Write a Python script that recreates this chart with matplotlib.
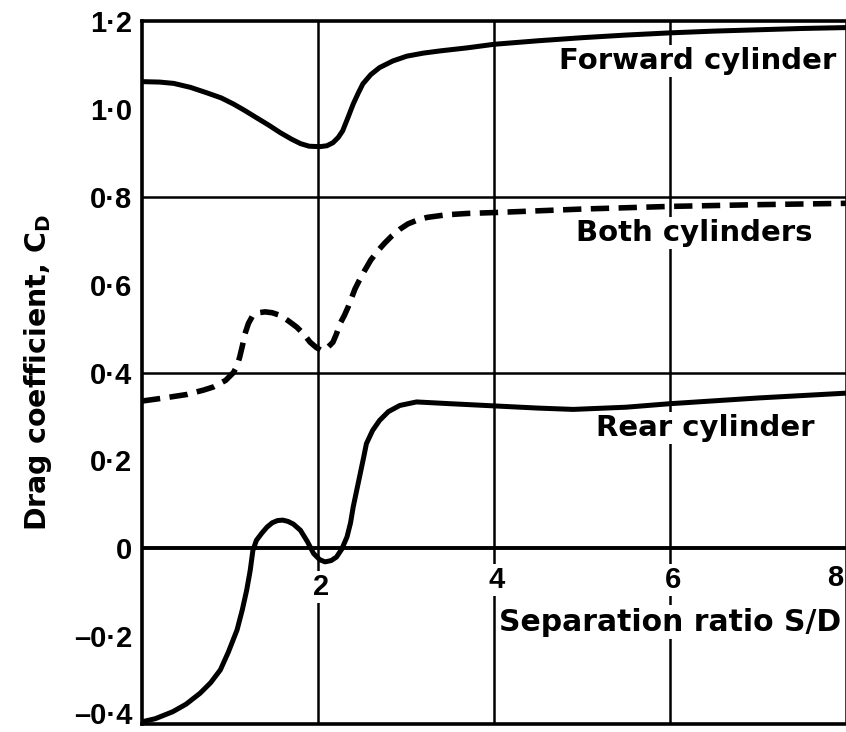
import matplotlib
matplotlib.use("Agg")
import matplotlib.pyplot as plt

plt.rcParams['font.family'] = ['Liberation Sans', 'DejaVu Sans']
plt.rcParams['mathtext.fontset'] = 'custom'
plt.rcParams['mathtext.rm'] = 'DejaVu Sans:bold'
plt.rcParams['mathtext.it'] = 'DejaVu Sans:bold'
plt.rcParams['mathtext.bf'] = 'DejaVu Sans:bold'

# ---- data ----
fwd_x = [0, 0.2, 0.36, 0.55, 0.73, 0.9, 1.04, 1.17, 1.30, 1.44, 1.57, 1.70,
         1.80, 1.90, 2.02, 2.10, 2.17, 2.23, 2.28, 2.34, 2.40, 2.46, 2.51,
         2.60, 2.70, 2.85, 3.01, 3.2, 3.39, 3.7, 4.0, 4.5, 5.0, 5.5, 6.0,
         6.5, 7.0, 7.5, 8.0]
fwd_y = [1.062, 1.061, 1.058, 1.049, 1.037, 1.025, 1.011, 0.996, 0.98, 0.963,
         0.946, 0.931, 0.921, 0.915, 0.914, 0.916, 0.923, 0.935, 0.95, 0.98,
         1.011, 1.037, 1.057, 1.078, 1.094, 1.109, 1.12, 1.127, 1.132, 1.139,
         1.147, 1.155, 1.162, 1.168, 1.173, 1.177, 1.18, 1.183, 1.185]

both_x = [0, 0.25, 0.51, 0.7, 0.81, 0.95, 1.04, 1.08, 1.11, 1.14, 1.17, 1.21,
          1.26, 1.32, 1.40, 1.48, 1.57, 1.66, 1.76, 1.84, 1.91, 1.98, 2.04,
          2.10, 2.17, 2.21, 2.25, 2.30, 2.34, 2.38, 2.42, 2.47, 2.53, 2.60,
          2.68, 2.76, 2.84, 2.93, 3.02, 3.13, 3.24, 3.46, 3.7, 4.0, 5.0, 6.0,
          7.0, 8.0]
both_y = [0.335, 0.342, 0.35, 0.36, 0.367, 0.382, 0.40, 0.415, 0.435, 0.46,
          0.488, 0.512, 0.53, 0.536, 0.538, 0.536, 0.53, 0.518, 0.503, 0.487,
          0.469, 0.457, 0.45, 0.455, 0.469, 0.488, 0.511, 0.53, 0.548, 0.569,
          0.59, 0.61, 0.632, 0.656, 0.677, 0.695, 0.711, 0.726, 0.738, 0.747,
          0.753, 0.759, 0.762, 0.764, 0.772, 0.778, 0.782, 0.785]

rear_x = [0, 0.15, 0.35, 0.5, 0.66, 0.78, 0.89, 0.98, 1.08, 1.14, 1.19, 1.23,
          1.26, 1.30, 1.36, 1.42, 1.48, 1.54, 1.60, 1.66, 1.72, 1.80, 1.88,
          1.95, 2.02, 2.08, 2.15, 2.21, 2.27, 2.33, 2.37, 2.40, 2.44, 2.48,
          2.52, 2.55, 2.62, 2.70, 2.80, 2.93, 3.12, 3.5, 4.0, 4.5, 4.9, 5.5,
          6.0, 7.0, 8.0]
rear_y = [-0.395, -0.388, -0.372, -0.355, -0.33, -0.306, -0.277, -0.237,
          -0.186, -0.14, -0.095, -0.05, -0.005, 0.018, 0.034, 0.048, 0.058,
          0.063, 0.064, 0.061, 0.055, 0.041, 0.015, -0.012, -0.026, -0.031,
          -0.028, -0.02, -0.002, 0.026, 0.058, 0.094, 0.132, 0.17, 0.208,
          0.238, 0.268, 0.291, 0.311, 0.325, 0.333, 0.329, 0.324, 0.319,
          0.316, 0.321, 0.329, 0.342, 0.353]

xticks = [2, 4, 6, 8]
xticklabels = ['2', '4', '6', '8']
yticks = [1.2, 1.0, 0.8, 0.6, 0.4, 0.2, 0, -0.2, -0.4]
yticklabels = ['1·2', '1·0', '0·8', '0·6', '0·4', '0·2', '0', '–0·2', '–0·4']
hgrid = [0.8, 0.4]

labels = ['Forward cylinder', 'Both cylinders', 'Rear cylinder']

# ---- figure ----
W, H = 846, 732
fig = plt.figure(figsize=(W / 100, H / 100), dpi=100)
x0_px, y_top_px, y_bot_px = 142, 21, 724
xmax = 8.02
ax = fig.add_axes([x0_px / W, (H - y_bot_px) / H, 88 * xmax / W,
                   (y_bot_px - y_top_px) / H])
ax.set_xlim(0, xmax)
ax.set_ylim(-0.4, 1.2)

for s in ['left', 'top', 'bottom']:
    ax.spines[s].set_linewidth(2.6)
    ax.spines[s].set_color('black')
ax.spines['right'].set_visible(False)

for yv in hgrid:
    ax.axhline(yv, color='black', lw=1.8, zorder=1)
ax.axhline(0, color='black', lw=2.8, zorder=1)
for xv in xticks:
    ax.axvline(xv, color='black', lw=1.8, zorder=1)

lw = 3.6
ax.plot(fwd_x, fwd_y, color='black', lw=lw, solid_capstyle='round',
        solid_joinstyle='round', zorder=3)
ax.plot(both_x, both_y, color='black', lw=lw + 0.4, linestyle=(0, (3.3, 1.7)),
        dash_capstyle='butt', dash_joinstyle='round', zorder=3)
ax.plot(rear_x, rear_y, color='black', lw=lw, solid_capstyle='round',
        solid_joinstyle='round', zorder=3)

# y ticks
ax.set_yticks(yticks)
ax.set_yticklabels(yticklabels, fontsize=21, fontweight='bold')
ax.tick_params(axis='y', length=0, pad=7)
ax.set_xticks([])
ylabs = ax.get_yticklabels()
ylabs[-1].set_verticalalignment('baseline')

ax.set_ylabel(r'Drag coefficient, C$_{\mathrm{D}}$', fontsize=20.5,
              fontweight='bold', family='DejaVu Sans', labelpad=14)

# x tick labels just below zero line
xtick_pos = [(2.03, -0.089), (4.03, -0.073), (6.03, -0.073), (7.875, -0.068)]
box = dict(facecolor='white', edgecolor='none', pad=1.5)
for (tx, ty), lab in zip(xtick_pos, xticklabels):
    ax.text(tx, ty, lab, ha='center', va='center', fontsize=21,
            fontweight='bold', bbox=box, zorder=4)

label_pos = [(6.31, 1.109), (6.28, 0.718), (6.40, 0.273)]
for (tx, ty), lab in zip(label_pos, labels):
    ax.text(tx, ty, lab, ha='center', va='center', fontsize=21,
            fontweight='bold', family='DejaVu Sans', bbox=box, zorder=4)

ax.text(6.0, -0.168, 'Separation ratio S/D', ha='center', va='center',
        fontsize=21.5, fontweight='bold', family='DejaVu Sans', bbox=box,
        zorder=4)

fig.savefig('out.png', dpi=100)
